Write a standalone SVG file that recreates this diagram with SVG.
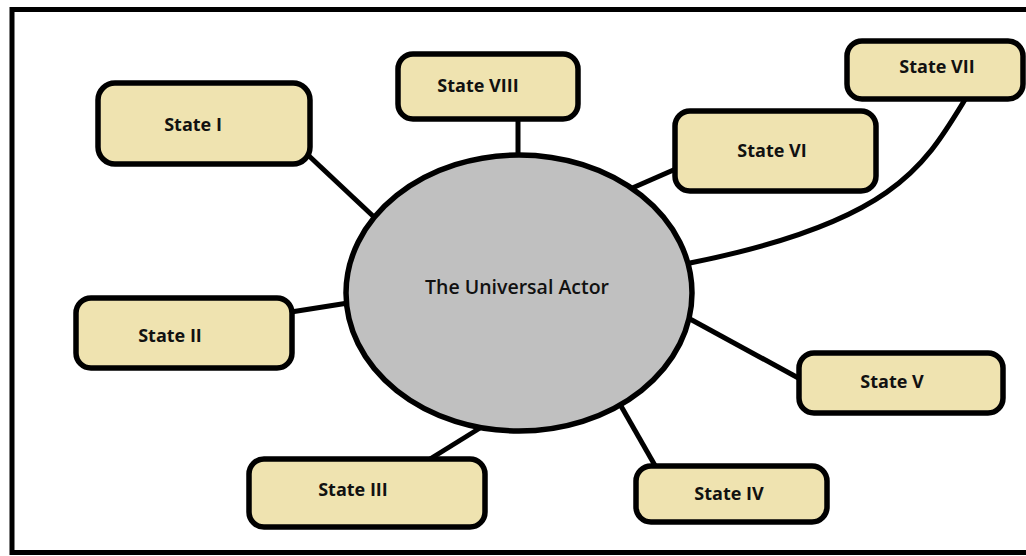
<svg xmlns="http://www.w3.org/2000/svg" width="1026" height="556" viewBox="0 0 1026 556">
<style>
.node rect{fill:#efe3b0;stroke:#000;stroke-width:5.5}
.lbl{font-family:"Open Sans","Liberation Sans",sans-serif;font-size:18px;font-weight:700;fill:#111;text-anchor:middle;dominant-baseline:central}
.conn{stroke:#000;stroke-width:5;fill:none}
</style>
<rect x="0" y="0" width="1026" height="556" fill="#fff"/>
<rect x="12" y="9.5" width="1030" height="543" fill="none" stroke="#000" stroke-width="5"/>
<g id="connectors" class="conn">
<line x1="308" y1="155" x2="374" y2="217"/>
<line x1="518" y1="118" x2="518" y2="158"/>
<line x1="678" y1="168" x2="630" y2="189"/>
<path d="M966,98 C925,165 895,222 690,263"/>
<line x1="291" y1="312" x2="348" y2="303"/>
<line x1="690" y1="319" x2="802" y2="380"/>
<line x1="621" y1="406" x2="657" y2="469"/>
<line x1="430" y1="459" x2="480" y2="428"/>
</g>
<g id="actor">
<ellipse cx="519" cy="293" rx="173" ry="138" fill="#c0c0c0" stroke="#000" stroke-width="5.5"/>
<text class="lbl" x="517" y="286" style="font-weight:600;font-size:19.5px">The Universal Actor</text>
</g>
<g id="state1" class="node"><rect x="98" y="83" width="212" height="81" rx="17"/><text class="lbl" x="193" y="124">State I</text></g>
<g id="state8" class="node"><rect x="398" y="54" width="180" height="65" rx="15"/><text class="lbl" x="478" y="85">State VIII</text></g>
<g id="state7" class="node"><rect x="847" y="41" width="176" height="58" rx="15"/><text class="lbl" x="937" y="66">State VII</text></g>
<g id="state6" class="node"><rect x="675" y="111" width="201" height="80" rx="15"/><text class="lbl" x="772" y="150">State VI</text></g>
<g id="state2" class="node"><rect x="76" y="298" width="216" height="70" rx="15"/><text class="lbl" x="170" y="335">State II</text></g>
<g id="state5" class="node"><rect x="799" y="353" width="204" height="60" rx="15"/><text class="lbl" x="892" y="381">State V</text></g>
<g id="state3" class="node"><rect x="249" y="459" width="236" height="68" rx="15"/><text class="lbl" x="353" y="489">State III</text></g>
<g id="state4" class="node"><rect x="636" y="466" width="191" height="56" rx="15"/><text class="lbl" x="729" y="493">State IV</text></g>
</svg>
